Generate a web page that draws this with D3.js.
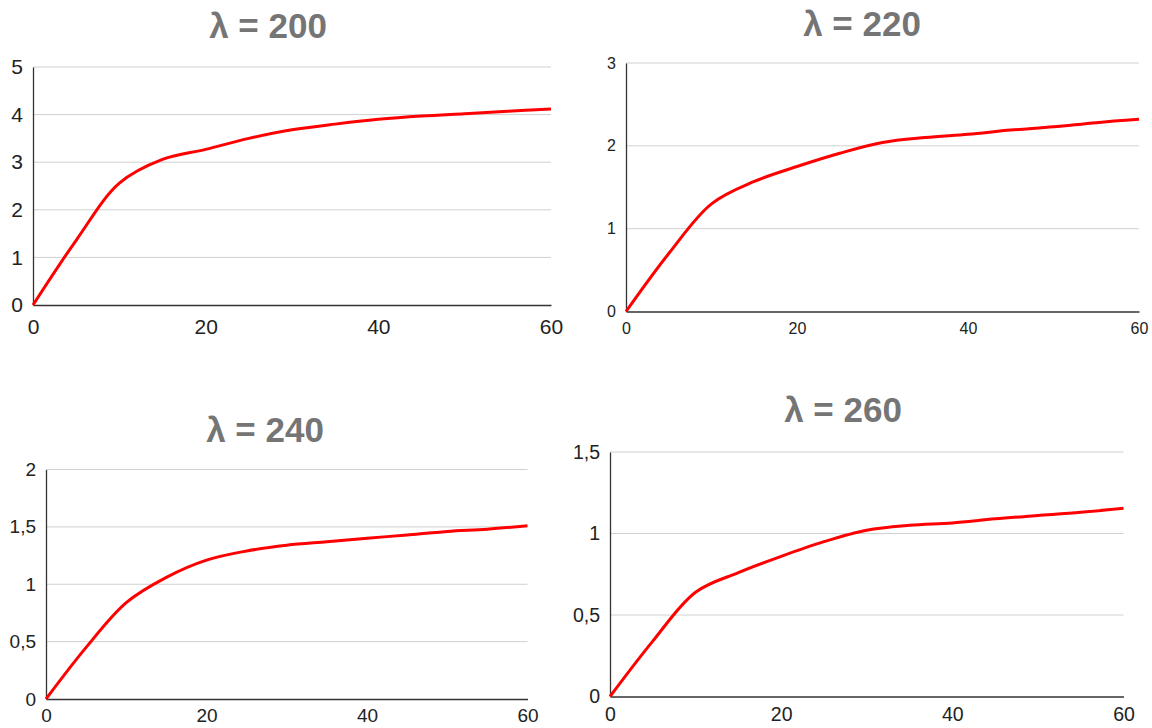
<!DOCTYPE html>
<meta charset="utf-8">
<style>
  body { margin: 0; background: #fff; }
  .chart text { font-family: Arial, "Liberation Sans", sans-serif; fill: #222; }
  .chart .title { font-weight: bold; fill: #757575; text-anchor: middle; }
  .grid line { stroke: #d0d0d0; stroke-width: 1px; }
  .axis path, .axis line { stroke: #333; }
  .curve { fill: none; stroke: #ff0000; stroke-width: 3px; }
</style>
<body>
<svg class="chart"></svg>
<script src="https://cdn.jsdelivr.net/npm/d3@7"></script>
<script>

// data
var titles = ["λ = 200", "λ = 220", "λ = 240", "λ = 260"];
var times = [0, 5, 10, 15, 20, 25, 30, 35, 40, 45, 50, 55, 60];
var vals200 = [0, 1.36, 2.56, 3.06, 3.27, 3.5, 3.68, 3.8, 3.9, 3.97, 4.02, 4.07, 4.12];
var vals220 = [0, 0.7, 1.3, 1.57, 1.75, 1.91, 2.04, 2.1, 2.14, 2.19, 2.23, 2.28, 2.32];
var vals240 = [0, 0.45, 0.84, 1.06, 1.21, 1.29, 1.34, 1.37, 1.4, 1.43, 1.46, 1.48, 1.51];
var vals260 = [0, 0.34, 0.64, 0.76, 0.86, 0.95, 1.02, 1.05, 1.065, 1.09, 1.11, 1.13, 1.155];
var xTicks = [0, 20, 40, 60];
var yTicks200 = [0, 1, 2, 3, 4, 5];
var yTicks220 = [0, 1, 2, 3];
var yTicks240 = [0, 0.5, 1, 1.5, 2];
var yTicks260 = [0, 0.5, 1, 1.5];

var w = 1152, h = 728;
var svg = d3.select(".chart").attr("width", w).attr("height", h);

// panel boxes: left, right, top, bottom of plot area, font size, x label gap, title position
var panels = [
  {vals: vals200, ticks: yTicks200, x0: 33, x1: 551, y0: 67, y1: 305, fs: 21, pad: 14, ty: 38, tx: 268},
  {vals: vals220, ticks: yTicks220, x0: 626, x1: 1139, y0: 63, y1: 311.5, fs: 16, pad: 11, ty: 36, tx: 862},
  {vals: vals240, ticks: yTicks240, x0: 46, x1: 527.5, y0: 469.5, y1: 699, fs: 19, pad: 10, ty: 442, tx: 265},
  {vals: vals260, ticks: yTicks260, x0: 610, x1: 1123.5, y0: 452, y1: 696.5, fs: 19.5, pad: 11, ty: 422, tx: 843}
];

var fmt = function (d) { return String(d).replace(".", ","); };

panels.forEach(function (p, i) {
  var g = svg.append("g");

  var x = d3.scaleLinear().domain([0, 60]).range([p.x0, p.x1]);
  var y = d3.scaleLinear()
    .domain([0, d3.max(p.ticks)])
    .range([p.y1, p.y0]);

  // gridlines
  g.append("g").attr("class", "grid")
    .selectAll("line")
    .data(p.ticks.filter(function (t) { return t > 0; }))
    .enter().append("line")
    .attr("x1", p.x0).attr("x2", p.x1)
    .attr("y1", function (d) { return y(d); })
    .attr("y2", function (d) { return y(d); });

  // y labels
  var ya = g.append("g").attr("class", "axis")
    .attr("transform", "translate(" + p.x0 + ",0)")
    .call(d3.axisLeft(y).tickValues(p.ticks).tickSize(0).tickPadding(10).tickFormat(fmt));
  ya.select(".domain").attr("stroke", "#111").attr("stroke-width", 1.3);
  ya.selectAll("text").style("font-size", p.fs + "px");

  // x axis
  var xa = g.append("g").attr("class", "axis")
    .attr("transform", "translate(0," + p.y1 + ")")
    .call(d3.axisBottom(x).tickValues(xTicks).tickSize(0).tickPadding(p.pad).tickFormat(fmt));
  xa.select(".domain").attr("stroke", "#333").attr("stroke-width", 1.5);
  xa.selectAll("text").style("font-size", p.fs + "px");

  // title
  g.append("text").attr("class", "title")
    .attr("x", p.tx).attr("y", p.ty)
    .style("font-size", "35px")
    .text(titles[i]);

  // curve
  var line = d3.line()
    .x(function (d) { return x(d[0]); })
    .y(function (d) { return y(d[1]); })
    .curve(d3.curveCatmullRom.alpha(0.5));

  g.append("path").attr("class", "curve")
    .attr("d", line(d3.zip(times, p.vals)));
});

</script>
</body>
